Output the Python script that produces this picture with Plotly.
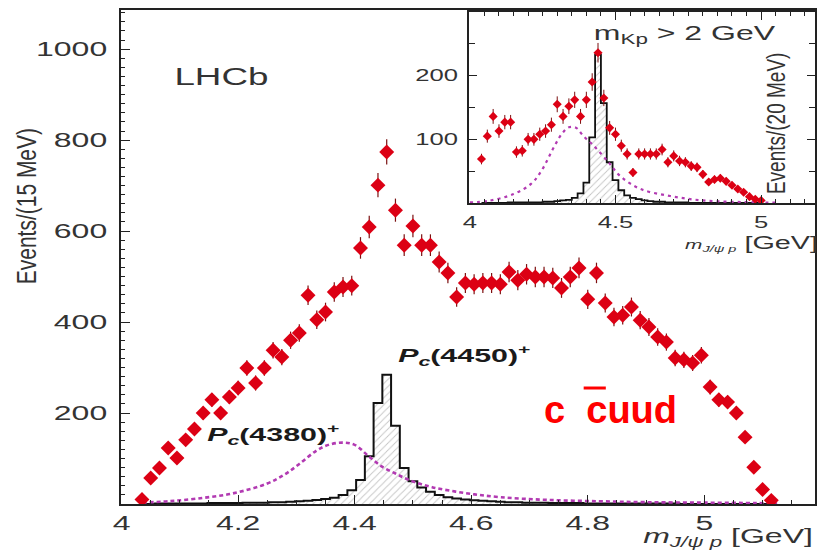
import numpy as np
import plotly.graph_objects as go

# ---------------- main spectrum: 15 MeV bins ----------------
main_first_centre = 4.035
main_bin = 0.015
main_counts = [10, 57, 79, 123, 101, 141, 165, 200, 229, 200,
               235, 255, 299, 266, 299, 338, 323, 360, 376, 459,
               405, 422, 466, 477, 480, 563, 609, 701, 774, 646,
               569, 611, 569, 569, 532, 508, 455, 486, 483, 486,
               486, 483, 510, 492, 505, 499, 499, 497, 475, 499,
               519, 450, 508, 442, 411, 415, 433, 404, 389, 367,
               356, 321, 317, 310, 327, 257, 229, 224, 200, 147,
               81, 32, 8]
# Pc(4450)+ component (hatched histogram)
main_pc4450 = [0, 0, 1, 1, 1, 1, 1, 1, 2, 2,
               2, 2, 3, 3, 3, 4, 4, 5, 6, 7,
               9, 11, 14, 20, 30, 53, 105, 222, 284, 172,
               79, 50, 36, 27, 20, 15, 12, 10, 8, 7,
               6, 5, 4, 4, 3, 3, 3, 2, 2, 2,
               2, 1, 1, 1, 1, 1, 1, 1, 1, 1,
               1, 1, 0, 0, 0, 0, 0, 0, 0, 0,
               0, 0, 0]
# Pc(4380)+ component (dotted curve)
main_pc4380_mass = [4.036, 4.08, 4.13, 4.19, 4.25, 4.28, 4.305, 4.334, 4.355, 4.379,
                    4.40, 4.425, 4.447, 4.47, 4.493, 4.533, 4.59, 4.65, 4.73, 4.82,
                    4.90, 5.00, 5.09, 5.125]
main_pc4380_counts = [3, 6, 12, 23, 45, 65, 88, 117, 130, 135,
                      130, 104, 82, 67, 53, 37, 24, 15, 9, 6,
                      4, 3, 2, 1]

# ---------------- inset (m_Kp > 2 GeV): 20 MeV bins ----------------
inset_first_centre = 4.04
inset_bin = 0.02
inset_counts = [69, 105, 136, 113, 127, 127, 80, 82, 100, 100,
                108, 113, 123, 155, 136, 152, 162, 136, 162, 190,
                236, 165, 118, 108, 90, 77, 48, 77, 77, 77,
                77, 84, 64, 74, 66, 64, 58, 56, 45, 33,
                37, 39, 34, 28, 22, 17, 10, 6, 4]
inset_pc4450 = [0, 0, 0, 0, 0, 1, 1, 1, 1, 1,
                1, 2, 2, 3, 4, 5, 8, 15, 32, 103,
                233, 157, 64, 36, 20, 12, 8, 6, 4, 3,
                2, 2, 1, 1, 1, 1, 0, 0, 0, 0,
                0, 0, 0, 0, 0, 0, 0, 0, 0]
inset_pc4380_mass = [4.0, 4.06, 4.15, 4.21, 4.245, 4.29, 4.315, 4.34, 4.365, 4.39,
                     4.425, 4.476, 4.517, 4.586, 4.688, 4.80, 4.99, 5.05]
inset_pc4380_counts = [1, 3, 14, 30, 50, 89, 108, 119, 118, 105,
                       90, 64, 42, 22, 11, 4, 1, 0.5]

# bin centres
main_mass = np.round(main_first_centre + main_bin * np.arange(len(main_counts)), 4)
inset_mass = np.round(inset_first_centre + inset_bin * np.arange(len(inset_counts)), 4)

RED = "#dc0014"
ERR = "#7a1010"
DOT = "#b23ab2"
AX = "#222222"
TXT = "#333333"
FONT = "Liberation Sans"

hatch = dict(shape="/", fgcolor="#8c8c8c", bgcolor="rgba(255,255,255,0)", size=5, solidity=0.18)

fig = go.Figure()

# main panel
fig.add_trace(go.Scatter(x=main_mass, y=main_pc4450, mode="lines",
                         line=dict(shape="hvh", color="#111111", width=2),
                         fill="tozeroy", fillcolor="rgba(0,0,0,0)", fillpattern=hatch,
                         xaxis="x", yaxis="y", showlegend=False, hoverinfo="skip"))
fig.add_trace(go.Scatter(x=main_pc4380_mass, y=main_pc4380_counts, mode="lines",
                         line=dict(color=DOT, dash="4px,3px", width=2.6, shape="spline"),
                         xaxis="x", yaxis="y", showlegend=False, hoverinfo="skip"))
fig.add_trace(go.Scatter(x=main_mass, y=main_counts, mode="markers",
                         marker=dict(symbol="diamond", size=11.5, color=RED),
                         error_y=dict(type="data", array=np.sqrt(main_counts), color=ERR,
                                      thickness=1.2, width=0),
                         xaxis="x", yaxis="y", showlegend=False))

# inset panel
fig.add_trace(go.Scatter(x=inset_mass, y=inset_pc4450, mode="lines",
                         line=dict(shape="hvh", color="#111111", width=1.8),
                         fill="tozeroy", fillcolor="rgba(0,0,0,0)", fillpattern=hatch,
                         xaxis="x2", yaxis="y2", showlegend=False, hoverinfo="skip"))
fig.add_trace(go.Scatter(x=inset_pc4380_mass, y=inset_pc4380_counts, mode="lines",
                         line=dict(color=DOT, dash="3px,4px", width=2.2, shape="spline"),
                         xaxis="x2", yaxis="y2", showlegend=False, hoverinfo="skip"))
fig.add_trace(go.Scatter(x=inset_mass, y=inset_counts, mode="markers",
                         marker=dict(symbol="diamond", size=7, color=RED),
                         error_y=dict(type="data", array=np.sqrt(inset_counts), color=ERR,
                                      thickness=1, width=0),
                         xaxis="x2", yaxis="y2", showlegend=False))

axis_common = dict(showline=True, linecolor=AX, linewidth=1.6, showgrid=False, zeroline=False,
                   ticks="inside", tickcolor=AX, tickwidth=1.3)

fig.update_layout(
    width=819, height=558,
    margin=dict(l=121, r=2, t=10, b=54),
    paper_bgcolor="white", plot_bgcolor="white",
    font=dict(family=FONT, color=TXT),
    xaxis=dict(axis_common, domain=[0, 1], anchor="y", range=[3.999, 5.19], mirror=True,
               tick0=4, dtick=0.2, ticklen=9, ticklabelstandoff=0,
               tickfont=dict(family=FONT, size=20, color=TXT),
               minor=dict(tickmode="linear", tick0=4, dtick=0.05, ticklen=4,
                          ticks="inside", tickcolor=AX)),
    yaxis=dict(axis_common, domain=[0, 1], anchor="x", range=[0, 1086], mirror=True,
               tickmode="array", tickvals=[200, 400, 600, 800, 1000], ticklen=9,
               ticklabelstandoff=8,
               tickfont=dict(family=FONT, size=20, color=TXT),
               minor=dict(tickmode="linear", tick0=0, dtick=20, ticklen=4,
                          ticks="inside", tickcolor=AX)),
    xaxis2=dict(axis_common, domain=[0.5014, 1], anchor="y2", range=[3.997, 5.185],
                mirror="ticks", tick0=4, dtick=0.5, ticklen=8, ticklabelstandoff=4,
                tickfont=dict(family=FONT, size=16, color=TXT),
                minor=dict(tickmode="linear", tick0=4, dtick=0.05, ticklen=4,
                           ticks="inside", tickcolor=AX)),
    yaxis2=dict(axis_common, domain=[0.6093, 0.996], anchor="x2", range=[0, 300],
                mirror="ticks", tickmode="array", tickvals=[100, 200], ticklen=8,
                ticklabelstandoff=6,
                tickfont=dict(family=FONT, size=16, color=TXT),
                minor=dict(tickmode="linear", tick0=0, dtick=50, ticklen=6,
                           ticks="inside", tickcolor=AX)),
)

ann = [
    dict(text="LHCb", x=0.1451, y=0.8644, font=dict(size=23, color=TXT)),
    dict(text="Events/(15 MeV)", x=-0.1379, y=0.6032, textangle=-90,
         font=dict(size=21, color=TXT)),
    dict(text="<i>m</i><sub><i>J/\u03c8 p</i></sub> [GeV]", x=0.8750, y=-0.0688,
         font=dict(size=20, color=TXT)),
    dict(text="<b><i>P</i><sub><i>c</i></sub>(4450)<sup>+</sup></b>", x=0.4943, y=0.3016,
         font=dict(size=19, color="#1a1a1a")),
    dict(text="<b><i>P</i><sub><i>c</i></sub>(4380)<sup>+</sup></b>", x=0.2198, y=0.1417,
         font=dict(size=19, color="#1a1a1a")),
    dict(text="<b>c\u00a0\u00a0cuud</b>", x=0.7055, y=0.1903,
         font=dict(size=38, color="#ff0000")),
    dict(text="m<sub>Kp</sub> > 2 GeV", x=0.8132, y=0.9494,
         font=dict(size=20, color=TXT)),
    dict(text="Events/(20 MeV)", x=0.9454, y=0.7713, textangle=-90,
         font=dict(size=19, color=TXT)),
    dict(text="<span style='font-size:13px'><i>m</i><sub><i>J/\u03c8 p</i></sub></span> [GeV]",
         x=0.9080, y=0.5283, font=dict(size=18, color=TXT)),
]
for a in ann:
    fig.add_annotation(xref="paper", yref="paper", showarrow=False,
                       xanchor="center", yanchor="middle", **a)

# bar over the anti-charm quark
fig.add_shape(type="line", xref="x", yref="y", x0=4.793, x1=4.831, y0=255, y1=255,
              line=dict(color="#ff0000", width=3))

# widen the typeset labels horizontally (the original typesetting is broad)
stretch_js = """
var gd = document.getElementById('{plot_id}');
var SH = 1.6, SV = 1.35;
gd.querySelectorAll('svg text').forEach(function(t){
  var s = t.textContent || '';
  if (!s.trim() || s.indexOf('cuud') >= 0) return;
  var ctm = t.getCTM(); if (!ctm) return;
  var bb = t.getBBox();
  var anc = t.getAttribute('text-anchor') || window.getComputedStyle(t).textAnchor || 'start';
  var lx = anc === 'end' ? bb.x + bb.width : (anc === 'middle' ? bb.x + bb.width / 2 : bb.x);
  var ly = bb.y + bb.height / 2;
  var m = new DOMMatrix([ctm.a, ctm.b, ctm.c, ctm.d, ctm.e, ctm.f]);
  var rot = Math.abs(ctm.b) > Math.abs(ctm.a);
  var S = rot ? SV : SH;
  var p = new DOMPoint(lx, ly).matrixTransform(m);
  var A = new DOMMatrix().translate(p.x, p.y).scale(S, 1).translate(-p.x, -p.y);
  var L = m.inverse().multiply(A).multiply(m);
  var tr = t.getAttribute('transform') || '';
  t.setAttribute('transform', tr + ' matrix(' + [L.a, L.b, L.c, L.d, L.e, L.f].join(',') + ')');
});
"""

fig.write_html("out.html", config={"displayModeBar": False}, post_script=stretch_js)
